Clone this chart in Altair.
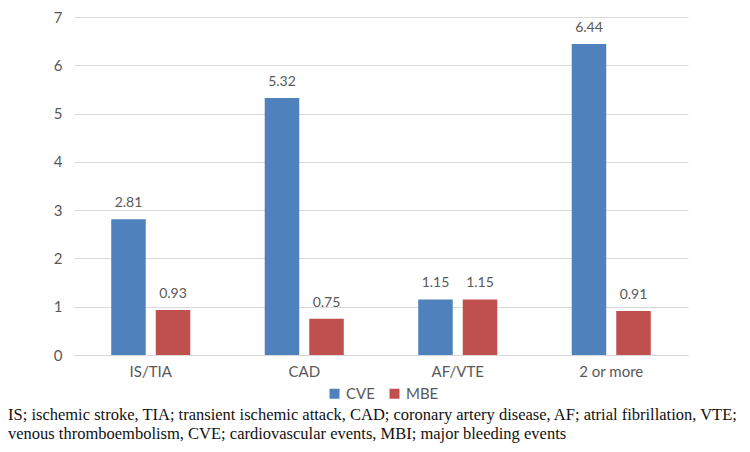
import altair as alt
import pandas as pd

categories = ["IS/TIA", "CAD", "AF/VTE", "2 or more"]
series = ["CVE", "MBE"]
cve_values = [2.81, 5.32, 1.15, 6.44]
mbe_values = [0.93, 0.75, 1.15, 0.91]
y_ticks = [0, 1, 2, 3, 4, 5, 6, 7]
caption_lines = [
    "IS; ischemic stroke, TIA; transient ischemic attack, CAD; coronary artery disease, AF; atrial fibrillation, VTE;",
    "venous thromboembolism, CVE; cardiovascular events, MBI; major bleeding events",
]
colors = ["#4F81BD", "#C0504D"]

rows = []
for c, v in zip(categories, cve_values):
    rows.append({"cat": c, "series": "CVE", "value": v, "label": f"{v:.2f}"})
for c, v in zip(categories, mbe_values):
    rows.append({"cat": c, "series": "MBE", "value": v, "label": f"{v:.2f}"})
df = pd.DataFrame(rows)

FONT = "Lato"
GRAY = "#595959"

x = alt.X("cat:N", sort=categories, title=None,
          scale=alt.Scale(paddingInner=0.485, paddingOuter=0.2425),
          axis=alt.Axis(labelAngle=0, labelFont=FONT, labelFontSize=15, labelColor=GRAY,
                        ticks=False, domain=True, domainColor="#D9D9D9", labelPadding=9))
xo = alt.XOffset("series:N", sort=series,
                 scale=alt.Scale(paddingInner=0.225, paddingOuter=0))
y = alt.Y("value:Q", title=None,
          scale=alt.Scale(domain=[0, 7], nice=False),
          axis=alt.Axis(values=y_ticks, format="d", labelFont=FONT, labelFontSize=15,
                        labelColor=GRAY, ticks=False, domain=False, gridColor="#D9D9D9",
                        labelPadding=12))

bars = alt.Chart(df).mark_bar().encode(
    x=x, xOffset=xo, y=y,
    color=alt.Color("series:N", sort=series,
                    scale=alt.Scale(domain=series, range=colors),
                    legend=alt.Legend(title=None, orient="none", direction="horizontal",
                                      legendX=253, legendY=369, symbolType="square",
                                      symbolSize=100, symbolStrokeWidth=0,
                                      labelFont=FONT, labelFontSize=15, labelColor=GRAY,
                                      columnPadding=12, labelOffset=4)),
)

labels = alt.Chart(df).mark_text(baseline="bottom", dy=-9, font=FONT, fontSize=14,
                                 color=GRAY).encode(
    x=alt.X("cat:N", sort=categories), xOffset=alt.XOffset("series:N", sort=series),
    y="value:Q", text="label:N")

caption = alt.Chart(pd.DataFrame({"t": ["\n".join(caption_lines)]})).mark_text(
    align="left", baseline="middle", font="Liberation Serif", fontSize=16.5,
    lineBreak="\n", lineHeight=18.5, color="#111111").encode(
    x=alt.value(-66), y=alt.value(398), text="t:N")

chart = alt.layer(bars, labels, caption).properties(
    width=614, height=338,
    autosize=alt.AutoSizeParams(type="none"),
    padding={"left": 66, "top": 9, "right": 54, "bottom": 89},
).configure_view(stroke=None)

chart.save("out.html", embed_options={"renderer": "svg", "actions": False})
